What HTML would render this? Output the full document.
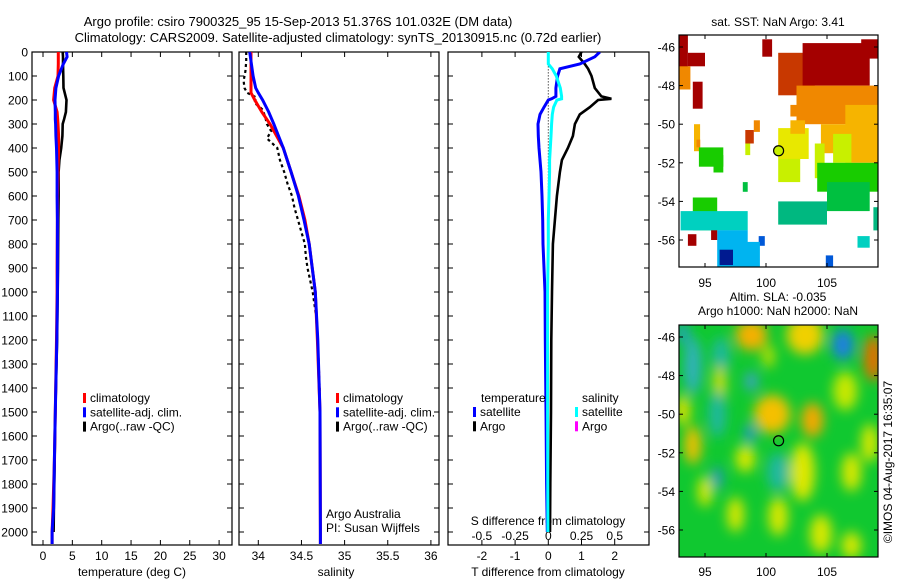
<!DOCTYPE html>
<html><head><meta charset="utf-8"><style>
html,body{margin:0;padding:0;background:#fff;}
svg{display:block;font-family:"Liberation Sans",sans-serif;}
text{font-size:12px;fill:#000;}
</style></head><body>
<svg id="fig" width="900" height="580" viewBox="0 0 900 580" xmlns="http://www.w3.org/2000/svg">
<defs>
<clipPath id="cp1"><rect x="32" y="52" width="200" height="493"/></clipPath>
<clipPath id="cp2"><rect x="239" y="52" width="200" height="493"/></clipPath>
<clipPath id="cp3"><rect x="448" y="52" width="201" height="493"/></clipPath>
<clipPath id="cpm1"><rect x="679" y="35" width="199" height="232"/></clipPath>
<clipPath id="cpm2"><rect x="679" y="325" width="199" height="232"/></clipPath>
<filter id="blur" x="-50%" y="-50%" width="200%" height="200%"><feGaussianBlur stdDeviation="6"/></filter>
</defs>
</svg>
<script>
// ---------- data ----------
const tDepth = [0,20,50,100,150,200,250,280,300,350,400,450,500,600,700,900,1000,1200,1500,1700,1900,2000,2050];
const tArgo  = [3.35,3.4,3.4,3.45,3.5,4.0,3.9,3.6,3.35,3.3,3.1,2.8,2.65,2.65,2.6,2.55,2.5,2.4,2.1,2.0,1.85,1.8,null];
const tClim  = [2.6,2.6,2.6,2.55,2.0,1.8,2.4,2.5,2.55,2.65,2.65,2.6,2.55,2.45,2.45,2.4,2.4,2.3,2.1,1.95,1.7,1.55,1.55];
const tSat   = [4.0,4.1,3.45,2.65,2.2,2.05,2.1,2.1,2.15,2.2,2.3,2.35,2.4,2.4,2.45,2.45,2.45,2.35,2.1,1.95,1.8,1.55,1.55];

const sDepth = [0,100,150,170,200,250,300,400,500,600,700,800,1000,1200,1500,2000,2050];
const sClim  = [33.915,33.915,33.915,33.915,33.96,34.04,34.135,34.29,34.38,34.47,34.54,34.59,34.66,34.685,34.715,34.72,34.72];
const sSat   = [33.90,33.94,33.97,34.0,34.05,34.12,34.18,34.29,34.38,34.465,34.53,34.59,34.66,34.69,34.715,34.72,34.72];
const sArgoDepth = [0,40,80,120,150,170,190,210,240,270,300,330,360,400,450,500,550,600,650,700,750,800,850,900,950,1000,1100,1200,1300,1400,1600,1800,2000];
const sArgo = [33.86,33.86,33.85,33.83,33.84,33.87,33.98,33.95,34.05,34.08,34.1,34.15,34.1,34.22,34.25,34.3,34.34,34.39,34.42,34.46,34.5,34.54,34.55,34.57,34.6,34.63,34.67,34.69,34.7,34.71,34.72,34.72,34.72];

const dDepth = [0,20,50,70,100,150,185,195,200,230,260,300,350,400,450,500,600,700,800,1000,1200,1500,1800,2000];
const dTSat  = [1.55,1.4,0.95,0.35,0.28,0.23,0.23,0.1,0.0,-0.13,-0.25,-0.31,-0.3,-0.28,-0.25,-0.22,-0.19,-0.17,-0.16,-0.1,-0.09,-0.07,-0.05,-0.03];
const dSSat  = [0.0,0.0,0.0,0.03,0.06,0.09,0.1,0.1,0.065,0.04,0.03,0.025,0.02,0.015,0.01,0.01,0.005,0.0,0.0,-0.005,-0.005,-0.005,-0.004,-0.003];
const dTArgo = [1.0,0.92,1.1,1.2,1.3,1.4,1.6,1.9,1.5,1.25,0.95,0.8,0.74,0.59,0.41,0.35,0.26,0.2,0.14,0.11,0.09,0.08,0.06,0.05];

const depthTicks = [0,100,200,300,400,500,600,700,800,900,1000,1100,1200,1300,1400,1500,1600,1700,1800,1900,2000];
const tempTicks = [0,5,10,15,20,25,30];
const salTicks = [34,34.5,35,35.5,36];
const salTickLabels = ["34","34.5","35","35.5","36"];
const dTTicks = [-2,-1,0,1,2];
const dSTicks = [-0.5,-0.25,0,0.25,0.5];
const dSTickLabels = ["-0.5","-0.25","0","0.25","0.5"];
const lonTicks = [95,100,105];
const latTicks = [-46,-48,-50,-52,-54,-56];

// SST map patches: lon0, lon1, latTop, latBottom, colour index
const sstLon0 = [92.9,93.6,92.9,94.0,96.8,99.7,101.0,103.0,102.5,104.5,106.5,102.0,99.0,98.3,98.3,94.1,94.3,94.5,95.7,101.0,101.0,104.0,105.5,104.2,105.0,101.0,98.1,94.0,93.0,96.0,96.2,93.6,95.5,99.4,98.0,104.9,107.5,108.8,102.0,107.8];
const sstLon1 = [93.6,95.0,93.8,94.8,97.3,100.5,104.0,108.5,109.2,109.2,109.2,102.6,99.5,99.0,98.7,94.6,94.6,96.5,96.5,103.5,102.8,104.8,107.0,109.2,108.5,105.0,98.5,96.0,98.5,98.5,97.3,94.3,96.0,99.9,99.5,105.5,108.5,109.2,103.2,109.2];
const sstLatT = [-44.8,-46.3,-47.0,-47.8,-44.8,-45.6,-46.3,-45.8,-48.0,-50.0,-49.0,-49.0,-49.8,-50.3,-51.0,-50.0,-50.8,-51.2,-51.6,-50.2,-51.8,-51.0,-50.5,-52.0,-53.0,-54.0,-53.0,-53.8,-54.5,-55.5,-56.5,-55.7,-55.5,-55.8,-56.1,-56.8,-55.8,-54.3,-49.8,-45.6];
const sstLatB = [-48.0,-47.0,-48.2,-49.2,-45.1,-46.5,-48.5,-48.0,-50.0,-51.5,-52.0,-49.6,-50.4,-51.0,-51.6,-51.4,-51.2,-52.2,-52.5,-51.8,-53.0,-52.8,-52.0,-53.5,-54.5,-55.2,-53.5,-55.5,-55.5,-57.4,-57.3,-56.3,-56.0,-56.3,-57.4,-57.4,-56.4,-55.5,-50.5,-46.6];
const sstVal  = [0,0,2,0,0,0,1,0,2,3,3,2,2,1,5,3,2,6,6,4,5,5,5,6,7,8,7,6,9,10,12,0,0,11,10,11,9,8,3,0];
const sstColors = ["#a40000","#c83800","#f08800","#f6b400","#e8e800","#c8f000","#18cc00","#00c040","#00b880","#00d0c0","#00b4f0","#0058d8","#001a90"];

// SLA blobs: lon, lat, rx(deg), ry(deg), colour
const slaLon = [98.8,103.2,106.3,108.8,94.0,96.3,98.8,96.2,93.2,100.5,103.8,98.7,94.0,98.3,103.0,107.0,108.5,96.0,96.0,101.0,95.0,97.5,101.0,104.5,107.0,93.2,106.5,100.2];
const slaLat = [-45.9,-45.9,-46.4,-47.1,-47.5,-47.0,-48.3,-48.5,-49.8,-50.0,-50.3,-51.0,-51.6,-52.3,-53.0,-53.0,-51.5,-53.3,-50.0,-53.0,-54.0,-55.2,-55.3,-56.2,-56.8,-45.8,-48.8,-47.0];
const slaRx = [1.3,1.5,0.9,0.8,0.7,0.7,0.5,0.5,0.6,1.5,0.9,0.4,0.7,0.8,1.0,0.8,0.7,0.4,0.7,0.9,0.6,0.7,0.8,0.9,0.8,0.5,1.0,0.5];
const slaRy = [0.8,1.0,0.8,1.2,1.5,1.0,0.5,1.0,0.8,1.0,0.9,0.5,1.0,0.7,1.5,1.0,1.0,0.6,1.2,1.0,0.8,0.9,1.0,1.0,0.7,0.6,1.0,0.6];
const slaCol = ["#f5b000","#f0d000","#1a80e0","#e07000","#30b0c0","#20b8a0","#40a0d0","#e0e000","#e0e000","#f5c000","#f5a800","#2090e0","#f0c000","#d8e800","#e0e800","#d8e800","#d8e800","#2090d0","#20b8a0","#20b8a0","#d8e800","#d8e800","#d8e800","#d8e800","#d8e800","#20a0c0","#c8e800","#c0e000"];

// ---------- helpers ----------
const NS="http://www.w3.org/2000/svg";
const svg=document.getElementById('fig');
function mk(tag,attrs,parent){const e=document.createElementNS(NS,tag);for(const k in attrs)e.setAttribute(k,attrs[k]);(parent||svg).appendChild(e);return e;}
function txt(x,y,s,anchor,parent,size){const e=mk('text',{x:x,y:y,'text-anchor':anchor||'start'},parent);if(size)e.style.fontSize=size+'px';e.textContent=s;return e;}

const Y0=52, YPX=0.24;
const yD=d=>Y0+d*YPX;
const xT=t=>43+5.87*t;
const xS=s=>258.3+86.3*(s-34);
const xDT=t=>548.3+33.2*t;
const xDS=s=>548.3+132.8*s;
const xLon=l=>705+(l-95)*12.2;
const yLat1=l=>47-(l+46)*19.3;
const yLat2=l=>337-(l+46)*19.3;

function line(xs,depths,xf,color,w,clip,name,dash){
  let pts=[];for(let i=0;i<depths.length;i++){if(xs[i]==null)continue;pts.push(xf(xs[i]).toFixed(1)+','+yD(depths[i]).toFixed(1));}
  const p=mk('polyline',{points:pts.join(' '),fill:'none',stroke:color,'stroke-width':w,'clip-path':'url(#'+clip+')','stroke-linejoin':'miter'});
  if(dash)p.setAttribute('stroke-dasharray',dash);
  
  
  return p;
}
function frame(x,y,w,h,name){
  const r=mk('rect',{x:x,y:y,width:w,height:h,fill:'none',stroke:'#000','stroke-width':1.2});
  
  
}
function depthAxis(x0,w,labels){
  const g=mk('g',{});
  
  
  depthTicks.forEach(d=>{const y=yD(d);mk('line',{x1:x0,y1:y,x2:x0+5,y2:y,stroke:'#000'},g);mk('line',{x1:x0+w-5,y1:y,x2:x0+w,y2:y,stroke:'#000'},g);
    if(labels){const t=txt(x0-4,y+4.5,String(d),'end',g);}});
}
function xTicks(vals,lbls,xf,x0,w,yb,labelY,g){
  vals.forEach((v,i)=>{const x=xf(v);mk('line',{x1:x,y1:yb,x2:x,y2:yb-5,stroke:'#000'},g);mk('line',{x1:x,y1:Y0,x2:x,y2:Y0+5,stroke:'#000'},g);
    if(labelY){const t=txt(x,labelY,lbls[i],'middle',g);}});
}

// ---------- titles ----------
let t=txt(298,26,'Argo profile: csiro 7900325_95 15-Sep-2013 51.376S 101.032E (DM data)','middle',null,13);


t=txt(338,42,'Climatology: CARS2009. Satellite-adjusted climatology: synTS_20130915.nc (0.72d earlier)','middle',null,13);



// ---------- panel 1 temperature ----------
frame(32,52,200,493,'temperature-panel');
depthAxis(32,200,true);
let g1=mk('g',{});


xTicks(tempTicks,tempTicks.map(String),xT,32,200,545,560,g1);
t=txt(132,576,'temperature (deg C)','middle');


line(tArgo,tDepth,xT,'#000',2.6,'cp1','temp-argo-line');
line(tClim,tDepth,xT,'#f00',3,'cp1','temp-climatology-line');
line(tSat,tDepth,xT,'#00f',3,'cp1','temp-satellite-line');

function legend(x,y,items,name){
  const g=mk('g',{});
  
  
  items.forEach((it,i)=>{const yy=y+i*14.3;
    if(it[1]){mk('rect',{x:x,y:yy-9,width:3,height:10,fill:it[1]},g);}
    txt(x+7,yy,it[0],'start',g);});
}
legend(83,402,[['climatology','#f00'],['satellite-adj. clim.','#00f'],['Argo(..raw -QC)','#000']],'temperature-legend');

// ---------- panel 2 salinity ----------
frame(239,52,200,493,'salinity-panel');
depthAxis(239,200,false);
let g2=mk('g',{});


xTicks(salTicks,salTickLabels,xS,239,200,545,560,g2);
t=txt(336,576,'salinity','middle');


line(sArgo,sArgoDepth,xS,'#000',2.2,'cp2','salinity-argo-line','3,3');
line(sClim,sDepth,xS,'#f00',3,'cp2','salinity-climatology-line');
line(sSat,sDepth,xS,'#00f',3,'cp2','salinity-satellite-line');
legend(336,402,[['climatology','#f00'],['satellite-adj. clim.','#00f'],['Argo(..raw -QC)','#000']],'salinity-legend');
t=txt(326,518,'Argo Australia','start');


t=txt(326,532,'PI: Susan Wijffels','start');



// ---------- panel 3 differences ----------
frame(448,52,201,493,'difference-panel');
depthAxis(448,201,false);
let g3=mk('g',{});


xTicks(dTTicks,dTTicks.map(String),xDT,448,201,545,560,g3);
let g3b=mk('g',{});


dSTicks.forEach((v,i)=>{txt(xDS(v),540,dSTickLabels[i],'middle',g3b);});
t=txt(548,525,'S difference from climatology','middle');


t=txt(548,576,'T difference from climatology','middle');


let zl=mk('line',{x1:xDT(0),y1:yD(60),x2:xDT(0),y2:yD(710),stroke:'#000','stroke-dasharray':'1,2'});


line(dTArgo,dDepth,xDT,'#000',2.6,'cp3','t-diff-argo-line');
line(dTSat,dDepth,xDT,'#0000ff',3,'cp3','t-diff-satellite-line');
line(dSSat,dDepth,xDS,'#00ffff',3,'cp3','s-diff-satellite-line');
legend(473,416,[['satellite','#00f'],['Argo','#000']],'temperature-diff-legend');
legend(575,416,[['satellite','#0ff'],['Argo','#f0f']],'salinity-diff-legend');
t=txt(481,402,'temperature','start');


t=txt(582,402,'salinity','start');



// ---------- maps ----------
function mapAxes(yTop,yf,labY,name){
  const g=mk('g',{});
  
  
  mk('rect',{x:679,y:yTop,width:199,height:232,fill:'none',stroke:'#000','stroke-width':1.2},g);
  lonTicks.forEach(l=>{const x=xLon(l);mk('line',{x1:x,y1:yTop,x2:x,y2:yTop+4,stroke:'#000'},g);mk('line',{x1:x,y1:yTop+232,x2:x,y2:yTop+228,stroke:'#000'},g);txt(x,labY,String(l),'middle',g);});
  latTicks.forEach(l=>{const y=yf(l);mk('line',{x1:679,y1:y,x2:683,y2:y,stroke:'#000'},g);mk('line',{x1:878,y1:y,x2:874,y2:y,stroke:'#000'},g);txt(675,y+4.5,String(l),'end',g);});
}
// SST
let gs=mk('g',{'clip-path':'url(#cpm1)'});


for(let i=0;i<sstVal.length;i++){
  const x0=xLon(sstLon0[i]),x1=xLon(sstLon1[i]),y0=yLat1(sstLatT[i]),y1=yLat1(sstLatB[i]);
  const r=mk('rect',{x:x0.toFixed(1),y:y0.toFixed(1),width:(x1-x0).toFixed(1),height:(y1-y0).toFixed(1),fill:sstColors[sstVal[i]]},gs);
  
  
}
let c1=mk('circle',{cx:xLon(101.032),cy:yLat1(-51.376),r:5,fill:'#c8f000',stroke:'#000','stroke-width':1.2});


mapAxes(35,yLat1,287,'sst-map-axes');
t=txt(778,26,'sat. SST: NaN Argo: 3.41','middle');



// SLA
let gl=mk('g',{'clip-path':'url(#cpm2)'});


mk('rect',{x:679,y:325,width:199,height:232,fill:'#10c830'},gl);
let gb=mk('g',{filter:'url(#blur)'},gl);
for(let i=0;i<slaLon.length;i++){
  const e=mk('ellipse',{cx:xLon(slaLon[i]).toFixed(1),cy:yLat2(slaLat[i]).toFixed(1),rx:(slaRx[i]*12.2).toFixed(1),ry:(slaRy[i]*19.3).toFixed(1),fill:slaCol[i]},gb);
  
  
}
let c2=mk('circle',{cx:xLon(101.032),cy:yLat2(-51.376),r:5,fill:'none',stroke:'#000','stroke-width':1.2});


mapAxes(325,yLat2,576,'sla-map-axes');
t=txt(778,301,'Altim. SLA: -0.035','middle');


t=txt(778,315,'Argo h1000: NaN h2000: NaN','middle');


t=txt(0,0,'©IMOS 04-Aug-2017 16:35:07','middle');
t.setAttribute('transform','translate(892,462) rotate(-90)');


</script>
</body></html>
